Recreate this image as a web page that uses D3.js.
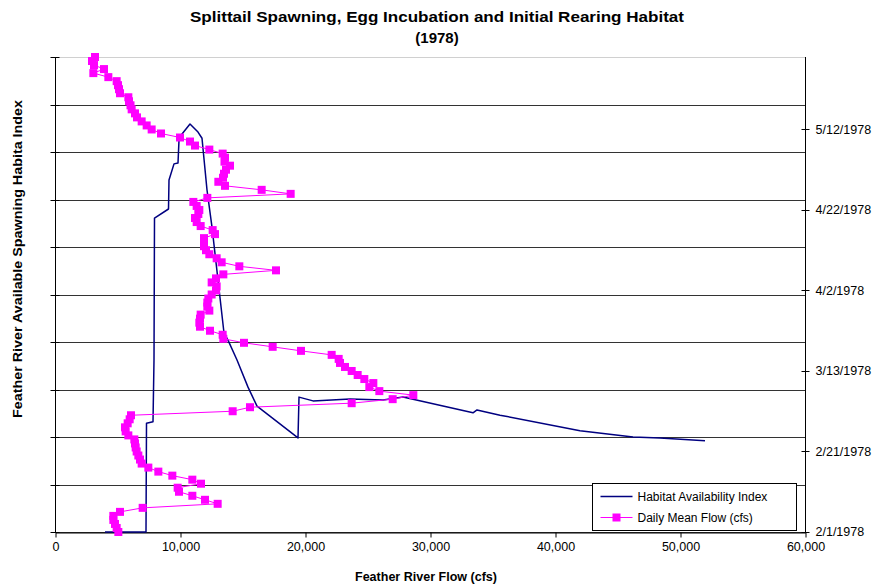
<!DOCTYPE html>
<html>
<head>
<meta charset="utf-8">
<script src="https://cdn.jsdelivr.net/npm/d3@7"></script>
<style>
  html, body { margin: 0; padding: 0; background: #fff; }
  svg { display: block; font-family: "Liberation Sans", Arial, sans-serif; }
</style>
</head>
<body>
<svg id="chart" width="875" height="586"></svg>
<script>
// Habitat availability index as a function of flow (primary axis)
const habitatFlow = [4000, 7280, 7320, 7840, 7920, 7960, 9080, 9120, 9520, 9840, 9920, 10160, 10800,
  11440, 11760, 12160, 12560, 13520, 13840, 14560, 15440, 16160, 19440, 19520, 20640, 23600, 26240,
  27840, 33440, 33760, 35600, 42000, 46240, 48400, 52000];
const habitatIndex = [0, 0, 0.229, 0.232, 0.362, 0.661, 0.680, 0.741, 0.775, 0.777, 0.825, 0.838, 0.859,
  0.842, 0.829, 0.720, 0.642, 0.419, 0.404, 0.362, 0.305, 0.265, 0.198, 0.284, 0.276, 0.280, 0.278,
  0.284, 0.251, 0.257, 0.246, 0.213, 0.200, 0.198, 0.192];

// Daily mean flow (cfs), one value per day starting 2/1/1978 (secondary axis)
const flowStart = new Date(1978, 1, 1);
const dailyFlow = [
  5067, 4933, 4800, 4667, 4667, 5200, 7013, 13013, 12000, 10987,
  9920, 9813, 11680, 10987, 9387, 8267, 7467, 6933, 6800, 6667,
  6533, 6453, 6400, 6347, 5867, 5653, 5600, 5813, 5973, 6080,
  14213, 15600, 23733, 27013, 28667, 25947, 25147, 25467, 24747, 24213,
  23733, 23200, 22800, 22693, 22133, 19680, 17413, 15120, 13467, 13413,
  12400, 11600, 11547, 11600, 11653, 12347, 12187, 12187, 12267, 12533,
  12880, 12933, 12533, 12880, 13467, 17680, 14747, 13333, 12933, 12347,
  12080, 11920, 11920, 11920, 12800, 12613, 11653, 11333, 11200, 11467,
  11547, 11333, 11067, 12187, 18853, 16533, 13600, 13067, 13440, 13520,
  13680, 14000, 13560, 13600, 13413, 12347, 11200, 10800, 10000, 8480,
  7733, 7333, 6933, 6560, 6400, 6133, 6040, 5920, 5867, 5200,
  5120, 5040, 4933, 4267, 3067, 3920, 3120, 2960, 3200
];

const flowTicks = [0, 10000, 20000, 30000, 40000, 50000, 60000];
const dateTickLabels = ["2/1/1978", "2/21/1978", "3/13/1978", "4/2/1978", "4/22/1978", "5/12/1978"];
const indexTicks = [0, 0.1, 0.2, 0.3, 0.4, 0.5, 0.6, 0.7, 0.8, 0.9, 1.0];

const titleLines = ["Splittail Spawning, Egg Incubation and Initial Rearing Habitat", "(1978)"];
const xTitle = "Feather River Flow (cfs)";
const yTitle = "Feather River Available Spawning Habita Index";
const seriesNames = ["Habitat Availability Index", "Daily Mean Flow (cfs)"];

const navy = "#000080", magenta = "#FF00FF";
const plot = { left: 55, right: 805, top: 57, bottom: 532 };

const svg = d3.select("#chart");
const dayMs = 24 * 3600 * 1000;
const parseMdy = d3.timeParse("%m/%d/%Y");

const x = d3.scaleLinear().domain([0, 60000]).range([plot.left, plot.right]);
const yIdx = d3.scaleLinear().domain([0, 1]).range([plot.bottom, plot.top]);
const yDate = d3.scaleTime()
  .domain([flowStart, new Date(1978, 4, 30)])
  .range([plot.bottom, plot.top]);

// Title
svg.append("text").attr("x", 437).attr("y", 22)
  .attr("text-anchor", "middle").attr("font-size", 15).attr("font-weight", "bold")
  .attr("textLength", 494).attr("lengthAdjust", "spacingAndGlyphs")
  .text(titleLines[0]);
svg.append("text").attr("x", 437).attr("y", 43)
  .attr("text-anchor", "middle").attr("font-size", 15).attr("font-weight", "bold")
  .text(titleLines[1]);

// Horizontal gridlines on the index scale
svg.append("g").selectAll("line").data(indexTicks).join("line")
  .attr("x1", plot.left).attr("x2", plot.right)
  .attr("y1", d => Math.round(yIdx(d)) + 0.5).attr("y2", d => Math.round(yIdx(d)) + 0.5)
  .attr("stroke", d => d === 1 ? "#d0d0d0" : "#333")
  .attr("stroke-width", 1);

// Left axis (no labels, cross ticks)
const gL = svg.append("g").attr("transform", `translate(${plot.left + 0.5},0)`);
gL.append("line").attr("y1", plot.top).attr("y2", plot.bottom).attr("stroke", "#000");
gL.selectAll("line.t").data(indexTicks).join("line").attr("class", "t")
  .attr("x1", -5).attr("x2", 4)
  .attr("y1", d => Math.round(yIdx(d)) + 0.5).attr("y2", d => Math.round(yIdx(d)) + 0.5)
  .attr("stroke", "#000");

// Bottom axis
const xAxis = d3.axisBottom(x).tickValues(flowTicks)
  .tickFormat(d3.format(",")).tickSize(5).tickSizeOuter(0);
const gB = svg.append("g").attr("transform", `translate(0.5,${plot.bottom + 0.5})`).call(xAxis);
gB.select(".domain").attr("stroke", "#000");
gB.selectAll(".tick line").attr("stroke", "#000");
gB.selectAll(".tick text").attr("font-size", 12.5).attr("font-family", "Liberation Sans, Arial, sans-serif")
  .attr("fill", "#000").attr("dy", "0.71em").attr("y", 10);

// Right date axis
const dateTicks = dateTickLabels.map(parseMdy);
const gR = svg.append("g").attr("transform", `translate(${plot.right + 0.5},0)`);
gR.append("line").attr("y1", plot.top).attr("y2", plot.bottom).attr("stroke", "#000");
gR.selectAll("line.t").data(dateTicks).join("line").attr("class", "t")
  .attr("x1", -4).attr("x2", 4)
  .attr("y1", d => Math.round(yDate(d)) + 0.5).attr("y2", d => Math.round(yDate(d)) + 0.5)
  .attr("stroke", "#000");
gR.selectAll("text").data(dateTicks).join("text")
  .attr("x", 10).attr("y", d => yDate(d)).attr("dy", "0.35em")
  .attr("font-size", 12.5)
  .text((d, i) => dateTickLabels[i]);

// Axis titles
svg.append("text").attr("x", 426).attr("y", 581).attr("text-anchor", "middle")
  .attr("font-size", 12.5).attr("font-weight", "bold")
  .attr("textLength", 142).attr("lengthAdjust", "spacingAndGlyphs").text(xTitle);
svg.append("text").attr("transform", "translate(22,259) rotate(-90)")
  .attr("text-anchor", "middle").attr("font-size", 12.5).attr("font-weight", "bold")
  .attr("textLength", 318).attr("lengthAdjust", "spacingAndGlyphs").text(yTitle);

// Habitat availability line
const habitat = habitatFlow.map((f, i) => ({ f, v: habitatIndex[i] }));
svg.append("path").datum(habitat)
  .attr("fill", "none").attr("stroke", navy).attr("stroke-width", 1.5)
  .attr("stroke-linejoin", "round")
  .attr("d", d3.line().x(d => x(d.f)).y(d => yIdx(d.v)));

// Daily mean flow series
const daily = dailyFlow.map((f, i) => ({ f, date: new Date(flowStart.getTime() + i * dayMs) }));
svg.append("path").datum(daily)
  .attr("fill", "none").attr("stroke", magenta).attr("stroke-width", 1)
  .attr("d", d3.line().x(d => x(d.f)).y(d => yDate(d.date)));
const ms = 8;
svg.append("g").selectAll("rect").data(daily).join("rect")
  .attr("x", d => x(d.f) - ms / 2).attr("y", d => yDate(d.date) - ms / 2)
  .attr("width", ms).attr("height", ms).attr("fill", magenta);

// Legend
const lg = svg.append("g").attr("transform", "translate(592.5,483.5)");
lg.append("rect").attr("width", 204).attr("height", 47)
  .attr("fill", "#fff").attr("stroke", "#000").attr("stroke-width", 1);
lg.append("line").attr("x1", 8).attr("x2", 40).attr("y1", 13).attr("y2", 13)
  .attr("stroke", navy).attr("stroke-width", 1.5);
lg.append("line").attr("x1", 8).attr("x2", 40).attr("y1", 34).attr("y2", 34)
  .attr("stroke", magenta).attr("stroke-width", 1);
lg.append("rect").attr("x", 24 - ms / 2).attr("y", 34 - ms / 2).attr("width", ms).attr("height", ms)
  .attr("fill", magenta);
lg.selectAll("text").data(seriesNames).join("text")
  .attr("x", 45).attr("y", (d, i) => 13 + i * 21).attr("dy", "0.35em")
  .attr("font-size", 12).text(d => d);
</script>
</body>
</html>
